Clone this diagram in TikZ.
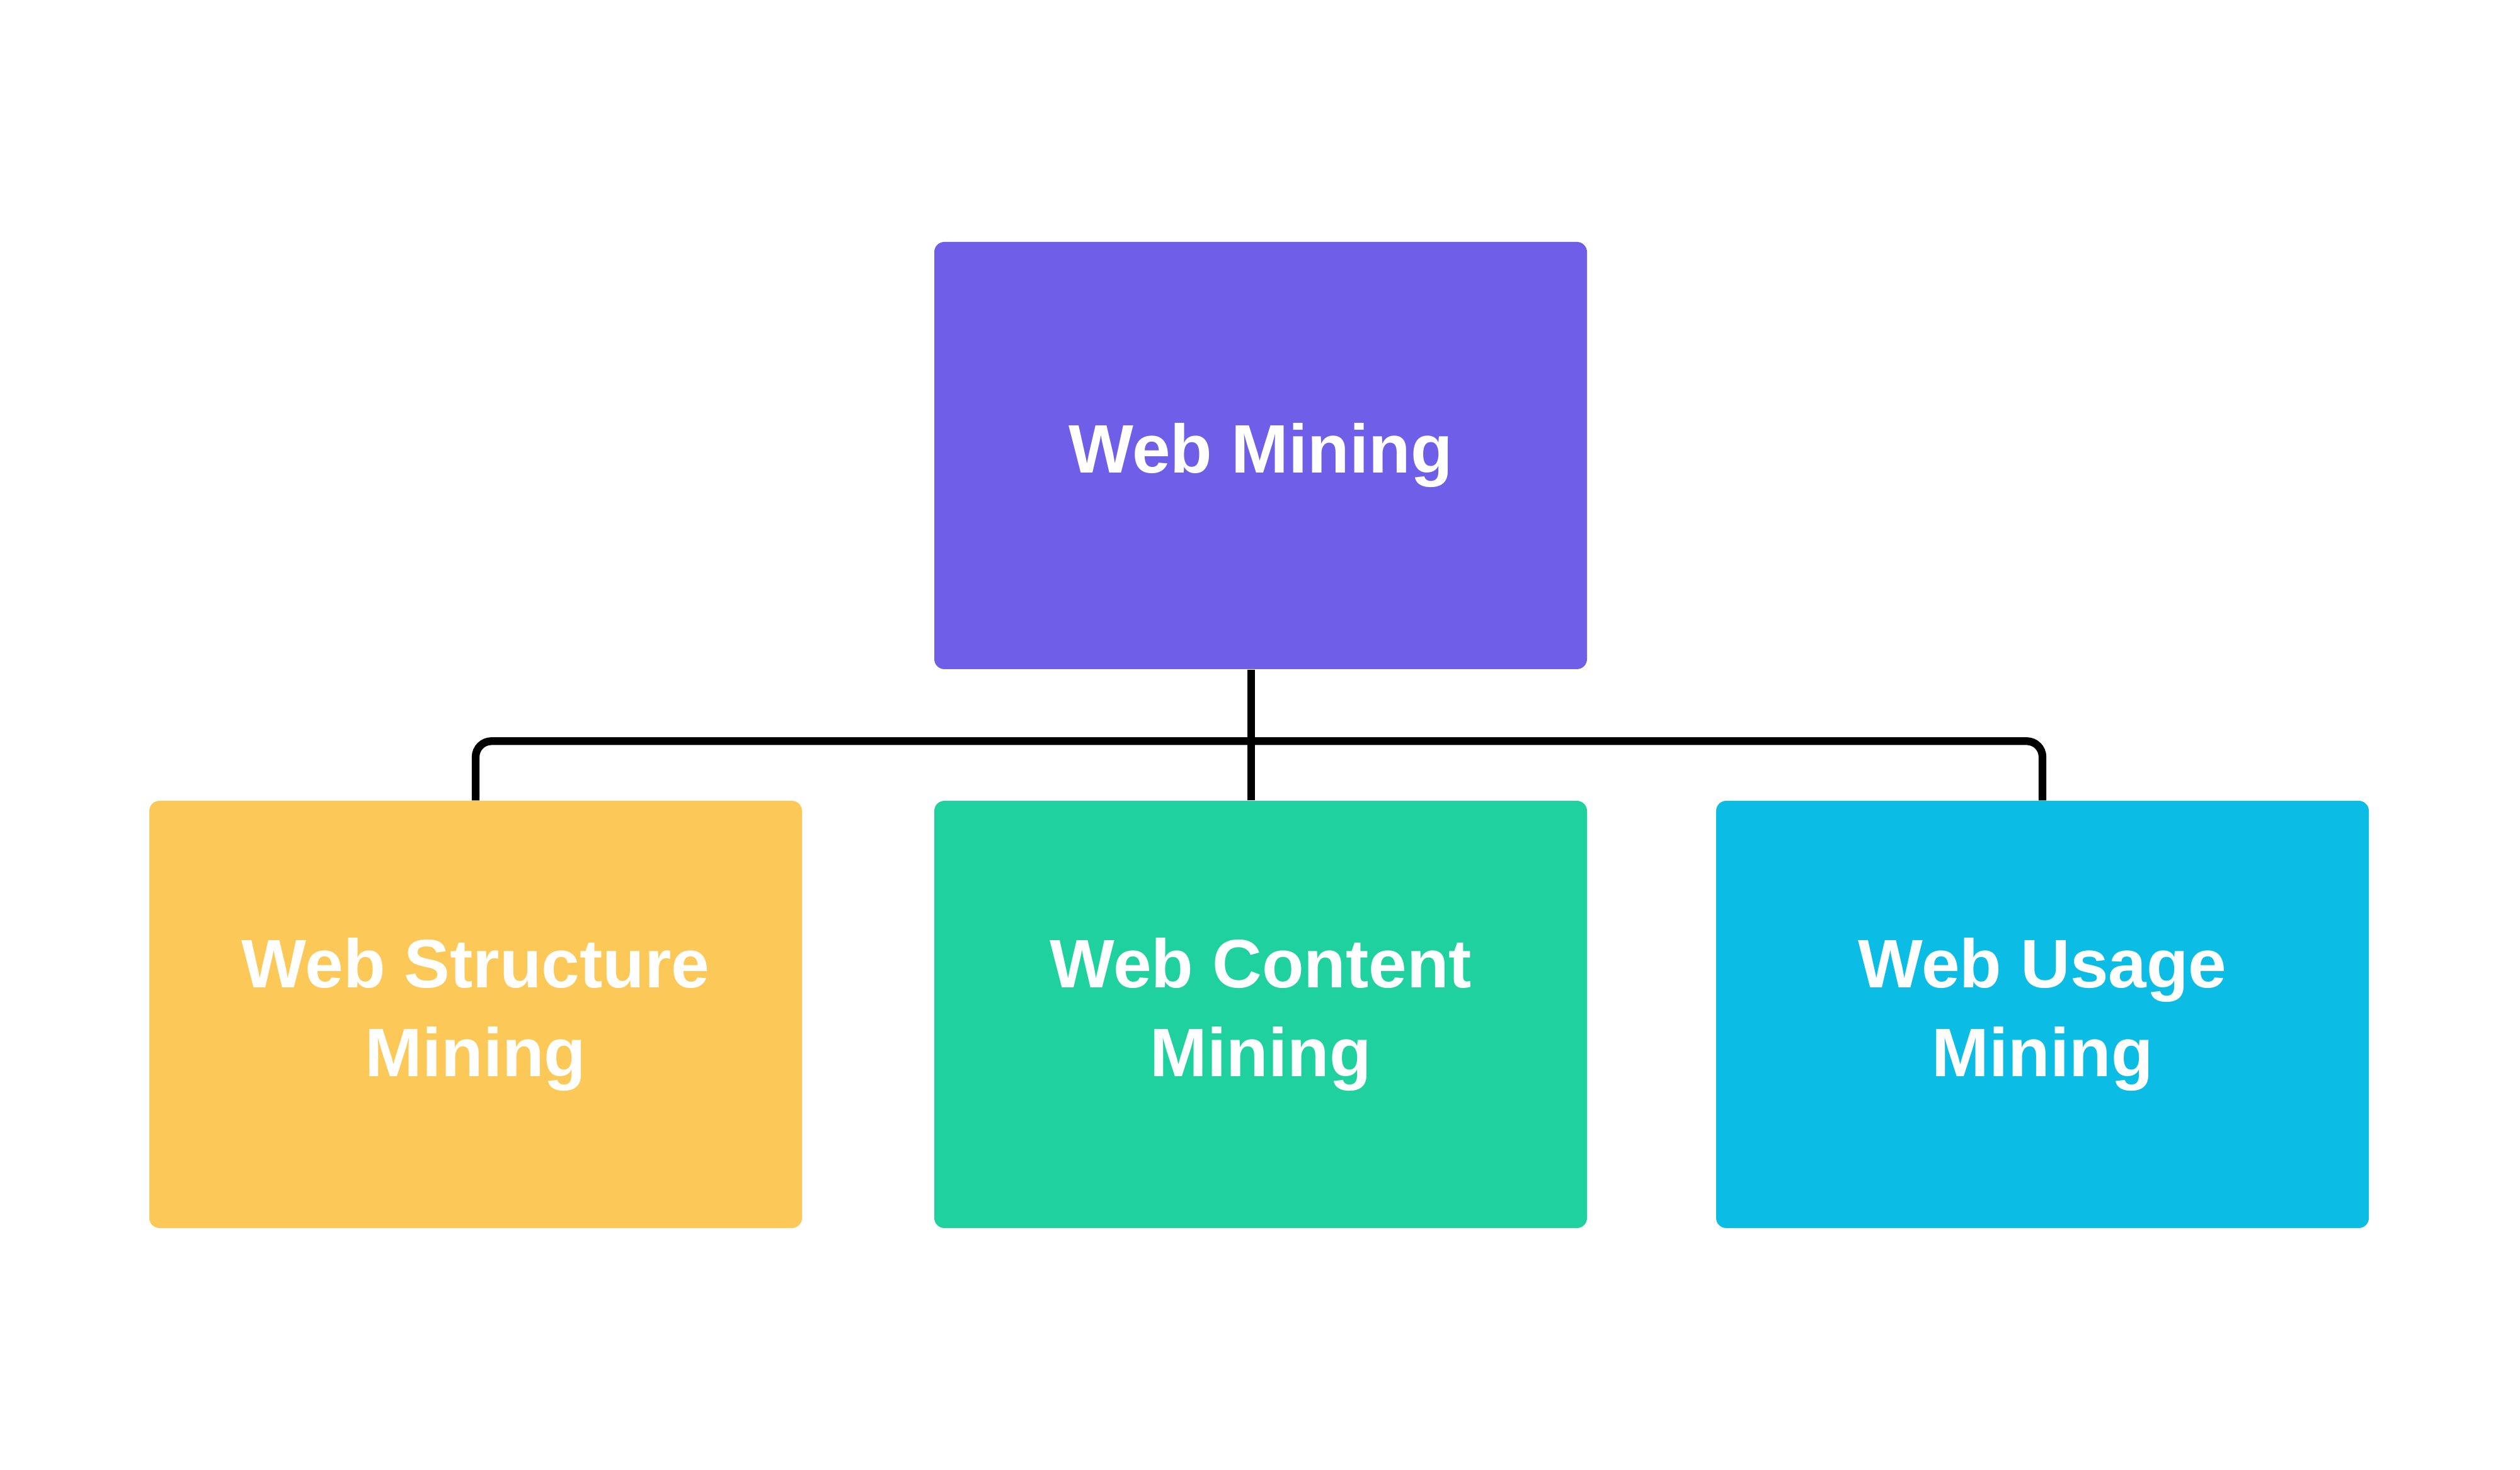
\documentclass[tikz,border=0pt]{standalone}
\usepackage{fontspec}
\setmainfont{Liberation Sans}
\usepackage{xcolor}
\definecolor{rootpurple}{RGB}{110,94,232}
\definecolor{structyellow}{RGB}{252,201,88}
\definecolor{contentgreen}{RGB}{32,209,160}
\definecolor{usagecyan}{RGB}{11,189,228}

\begin{document}
\begin{tikzpicture}[
  minebox/.style={rounded corners=0.16cm,minimum width=10.36cm,minimum height=6.78cm,
    text=white,align=center,font=\fontsize{31}{40}\selectfont\bfseries,inner sep=0},
  connector/.style={line width=3.5pt,black,rounded corners=0.25cm}]
\useasboundingbox (0,0) rectangle (40,23.33);
\node[minebox,fill=rootpurple] (web) at (20.01,16.10) {Web Mining};
\node[minebox,fill=structyellow] (struct) at (7.55,7.23) {Web Structure\\Mining};
\node[minebox,fill=contentgreen] (content) at (20.01,7.23) {Web Content\\Mining};
\node[minebox,fill=usagecyan] (usage) at (32.42,7.23) {Web Usage\\Mining};
% tree connectors
\draw[connector] (struct.north) -- ++(0,0.94) -| (usage.north);
\draw[connector] ([xshift=-0.15cm]web.south) -- ([xshift=-0.15cm]content.north);
\end{tikzpicture}
\end{document}
